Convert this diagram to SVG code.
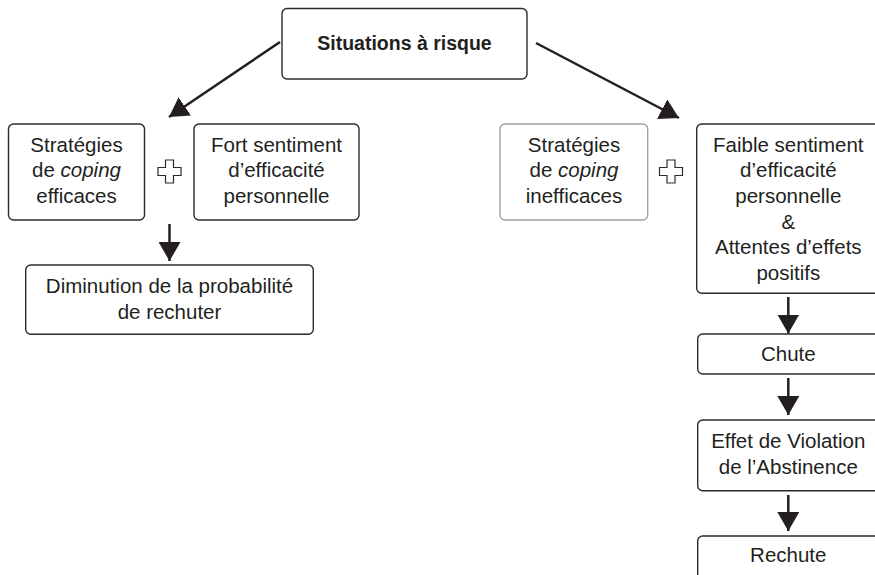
<svg xmlns="http://www.w3.org/2000/svg" width="875" height="575" viewBox="0 0 875 575">
<defs>
<style>
.box{fill:#fff;stroke:#2b2b2b;stroke-width:1.4}
.gbox{fill:#fff;stroke:#a0a0a0;stroke-width:1.4}
.t{font-family:"Liberation Sans",Arial,sans-serif;font-size:20.5px;fill:#231f20;text-anchor:middle}
.b{font-weight:bold;font-size:19.5px}
.plus{fill:#fff;stroke:#2b2b2b;stroke-width:1.2}
.arr{stroke:#231f20;stroke-width:2.5;fill:none;marker-end:url(#ah)}
</style>
<marker id="ah" markerUnits="userSpaceOnUse" markerWidth="20" markerHeight="22" refX="19" refY="11" orient="auto">
<path d="M0,0 L19,11 L0,22 z" fill="#231f20"/>
</marker>
</defs>
<g id="connectors">
<line class="arr" x1="280" y1="42" x2="169" y2="117"/>
<line class="arr" x1="536" y1="43" x2="679" y2="118"/>
<line class="arr" x1="169.5" y1="224" x2="169.5" y2="261"/>
<line class="arr" x1="788.3" y1="297" x2="788.3" y2="333.5"/>
<line class="arr" x1="788.3" y1="378" x2="788.3" y2="415"/>
<line class="arr" x1="788.3" y1="495" x2="788.3" y2="531"/>
</g>
<g id="situations">
<rect class="box" x="282" y="8.5" width="245" height="70.5" rx="5"/>
<text class="t b" x="404.5" y="50">Situations à risque</text>
</g>
<g id="coping-efficaces">
<rect class="box" x="8.5" y="124" width="136" height="96" rx="5"/>
<text class="t" x="76.5" y="151.7">Stratégies</text>
<text class="t" x="76.5" y="177.2">de <tspan font-style="italic">coping</tspan></text>
<text class="t" x="76.5" y="202.7">efficaces</text>
</g>
<g id="plus-left">
<path class="plus" d="M165.5,160 h8 v7.5 h7.5 v8 h-7.5 v7.5 h-8 v-7.5 h-7.5 v-8 h7.5 z"/>
</g>
<g id="fort-sentiment">
<rect class="box" x="194" y="124" width="165" height="96" rx="5"/>
<text class="t" x="276.5" y="151.7">Fort sentiment</text>
<text class="t" x="276.5" y="177.2">d’efficacité</text>
<text class="t" x="276.5" y="202.7">personnelle</text>
</g>
<g id="diminution">
<rect class="box" x="25.7" y="265" width="287.6" height="69.3" rx="5"/>
<text class="t" x="169.5" y="293.3">Diminution de la probabilité</text>
<text class="t" x="169.5" y="318.5">de rechuter</text>
</g>
<g id="coping-inefficaces">
<rect class="gbox" x="500" y="124" width="147.7" height="96" rx="5"/>
<text class="t" x="574" y="151.7">Stratégies</text>
<text class="t" x="574" y="177.2">de <tspan font-style="italic">coping</tspan></text>
<text class="t" x="574" y="202.7">inefficaces</text>
</g>
<g id="plus-right">
<path class="plus" d="M667,160 h8 v7.5 h7.5 v8 h-7.5 v7.5 h-8 v-7.5 h-7.5 v-8 h7.5 z"/>
</g>
<g id="faible-sentiment">
<rect class="box" x="696.7" y="124" width="190" height="169.3" rx="5"/>
<text class="t" x="788.3" y="151.7">Faible sentiment</text>
<text class="t" x="788.3" y="177.3">d’efficacité</text>
<text class="t" x="788.3" y="203">personnelle</text>
<text class="t" x="788.3" y="228.7">&amp;</text>
<text class="t" x="788.3" y="254.4">Attentes d’effets</text>
<text class="t" x="788.3" y="280">positifs</text>
</g>
<g id="chute">
<rect class="box" x="697.7" y="334" width="190" height="40" rx="5"/>
<text class="t" x="788.3" y="360.7">Chute</text>
</g>
<g id="violation">
<rect class="box" x="697.7" y="420" width="190" height="70.7" rx="5"/>
<text class="t" x="788.3" y="448.3">Effet de Violation</text>
<text class="t" x="788.3" y="474">de l’Abstinence</text>
</g>
<g id="rechute">
<rect class="box" x="697.7" y="536" width="190" height="60" rx="5"/>
<text class="t" x="788.3" y="561.7">Rechute</text>
</g>
</svg>
